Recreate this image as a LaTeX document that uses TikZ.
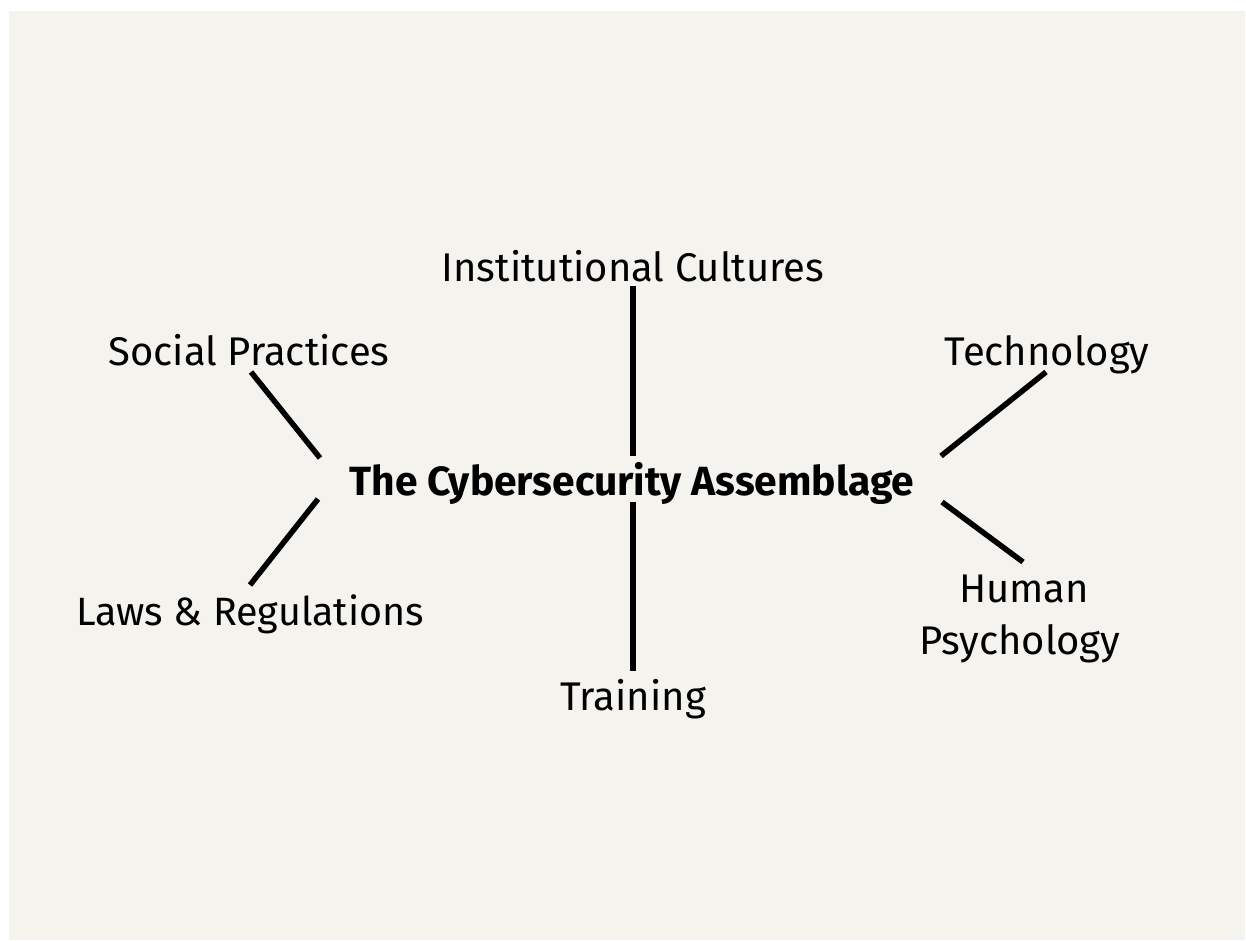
\documentclass[tikz,border=0pt]{standalone}
\usepackage{fontspec}
\setmainfont{Fira Sans}
\definecolor{paper}{HTML}{F4F3EE}
\begin{document}
\begin{tikzpicture}[x=1pt,y=-1pt,
  label/.style={inner sep=0pt,anchor=base,font=\fontsize{40}{48}\selectfont},
  hub/.style={inner sep=0pt,anchor=base,font=\fontsize{40.8}{48}\selectfont\bfseries},
  spoke/.style={line width=5.5pt,black}]
  % page and card
  \useasboundingbox (0,0) rectangle (1246,941);
  \fill[white] (0,0) rectangle (1246,941);
  \fill[paper] (9,11) rectangle (1245,940);

  % labels
  \node[hub]   (center) at (632,495) {The Cybersecurity Assemblage};
  \node[label] (inst)   at (633,281) {Institutional Cultures};
  \node[label] (social) at (249,365) {Social Practices};
  \node[label] (tech)   at (1047,365) {Technology};
  \node[label,font=\fontsize{39.5}{48}\selectfont] (laws) at (250,625) {Laws \& Regulations};
  \node[label] (train)  at (633,710) {Training};
  \node[label] (human)  at (1024,602) {Human};
  \node[label] (psych)  at (1020,654) {Psychology};

  % spoke end points
  \coordinate (instA)   at (633,286);  \coordinate (instB)   at (633,456);
  \coordinate (trainA)  at (633,502);  \coordinate (trainB)  at (633,671);
  \coordinate (socialA) at (251,372);  \coordinate (socialB) at (320,458);
  \coordinate (lawsA)   at (318,499);  \coordinate (lawsB)   at (250,585);
  \coordinate (techA)   at (1046,372); \coordinate (techB)   at (941,456);
  \coordinate (humanA)  at (942,502);  \coordinate (humanB)  at (1023,562);

  % spokes
  \draw[spoke] (instA) -- (instB);
  \draw[spoke] (trainA) -- (trainB);
  \draw[spoke] (socialA) -- (socialB);
  \draw[spoke] (lawsA) -- (lawsB);
  \draw[spoke] (techA) -- (techB);
  \draw[spoke] (humanA) -- (humanB);
\end{tikzpicture}
\end{document}
